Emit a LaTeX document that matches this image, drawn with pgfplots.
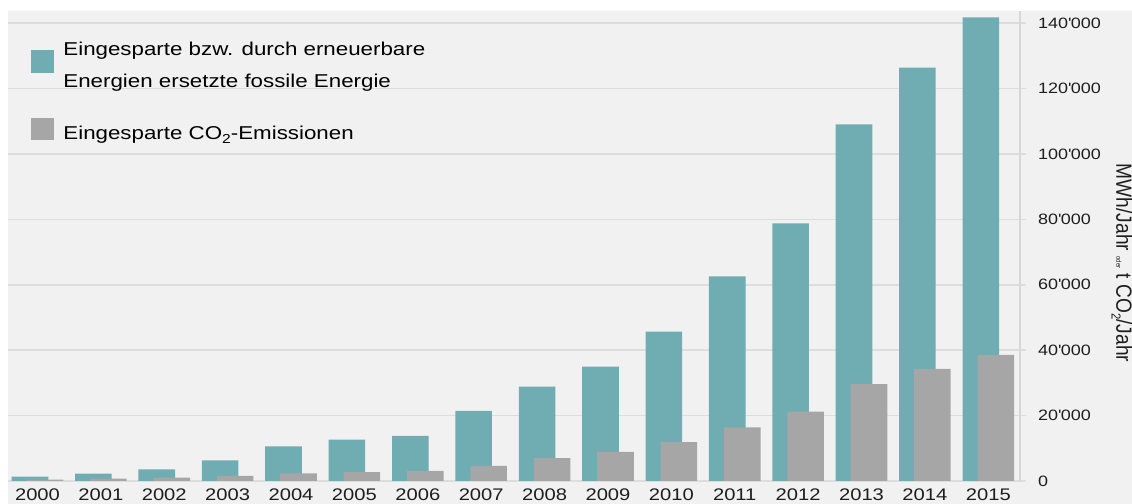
\documentclass[border=0pt]{standalone}
\usepackage{fontspec}
\setmainfont{Liberation Sans}[FakeStretch=1.2]
\newfontfamily\vfont{Liberation Sans}[FakeStretch=0.87]
\usepackage{pgfplots}
\pgfplotsset{compat=1.18}
\definecolor{teal1}{RGB}{111,173,178}
\definecolor{gray1}{RGB}{166,166,166}
\definecolor{bgc}{RGB}{241,241,241}
\definecolor{gridc}{RGB}{221,221,221}
\definecolor{axc}{RGB}{215,215,215}
\definecolor{txt}{RGB}{30,30,30}
\newcommand{\q}{\textquotesingle}
\newcommand{\sub}[1]{\raisebox{-0.4ex}{\fontsize{6.5}{7}\selectfont #1}}
\begin{document}
\begin{tikzpicture}
\clip (-4pt,-11.5pt) rectangle (562pt,240.5pt);
\fill[bgc] (0pt,-11.5pt) rectangle (562pt,235pt);
\begin{axis}[
  scale only axis, width=506pt, height=235pt,
  xmin=-0.465, xmax=15.5, ymin=0, ymax=143680,
  ybar, bar width=18.3pt,
  axis y line=right, axis x line=bottom,
  axis line style={-},
  x axis line style={draw=none},
  y axis line style={draw=axc, line width=0.7pt},
  xtick={0,...,15},
  xticklabels={2000,2001,2002,2003,2004,2005,2006,2007,2008,2009,2010,2011,2012,2013,2014,2015},
  xtick style={draw=none},
  xticklabel style={font=\fontsize{8.4}{10}\selectfont, text=txt, yshift=2.6pt},
  ytick={0,20000,40000,60000,80000,100000,120000,140000},
  yticklabels={0,20\q000,40\q000,60\q000,80\q000,100\q000,120\q000,140\q000},
  ytick style={draw=gridc, line width=0.8pt},
  major tick length=3pt, tick align=outside,
  scaled y ticks=false,
  yticklabel style={font=\fontsize{7.5}{9}\selectfont, text=txt, xshift=2.5pt},
  ymajorgrids, grid style={gridc, line width=0.8pt},
  ylabel={\vfont\fontsize{11}{13}\selectfont MWh/Jahr {\fontsize{3.5}{4}\selectfont oder} t CO\sub{2}/Jahr},
  ylabel style={at={(axis description cs:1.1008,0.4638)}, anchor=center, rotate=180, text=txt},
  legend style={at={(axis description cs:0.02273,0.9347)}, anchor=north west,
    draw=none, fill=none, font=\fontsize{9.3}{16}\selectfont,
    cells={align=left, anchor=west}, row sep=13.5pt, column sep=4.5pt, inner sep=0pt,
    nodes={inner sep=0pt}},
  legend image code/.code={\fill[#1,draw=none] (0pt,-3.17pt) rectangle (11.5pt,8.17pt);},
]
\addplot[fill=teal1, draw=none, bar shift=-3.75pt] coordinates {
(0,1300) (1,2230) (2,3570) (3,6330) (4,10600) (5,12630) (6,13760) (7,21400)
(8,28830) (9,34940) (10,45640) (11,62570) (12,78770) (13,109040) (14,126350) (15,141750)};
\addlegendentry{Eingesparte bzw. durch erneuerbare\\Energien ersetzte fossile Energie}
\addplot[fill=gray1, draw=none, bar shift=3.75pt] coordinates {
(0,400) (1,700) (2,1000) (3,1600) (4,2350) (5,2750) (6,3060) (7,4590)
(8,7030) (9,8870) (10,11920) (11,16400) (12,21200) (13,29650) (14,34240) (15,38520)};
\addlegendentry{Eingesparte CO\sub{2}-Emissionen}
\end{axis}
\end{tikzpicture}
\end{document}
